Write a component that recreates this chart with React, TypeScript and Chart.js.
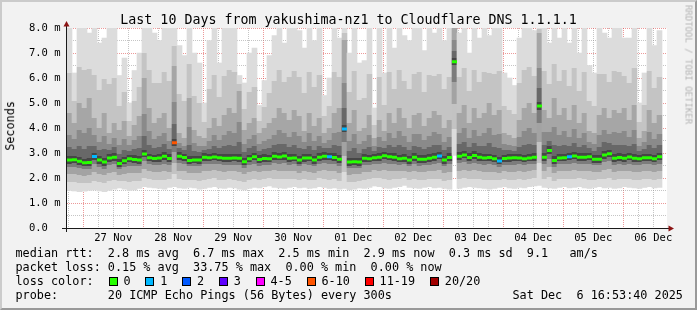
import React, { useEffect, useRef } from "react";
import { Chart, registerables } from "chart.js";

Chart.register(...registerables);

const titleText = "Last 10 Days from yakushima-nz1 to Cloudflare DNS 1.1.1.1";
const yAxisTitle = "Seconds";
const watermark = "RRDTOOL / TOBI OETIKER";

// x axis: hours relative to 27 Nov 00:00
const dayLabels = ["27 Nov", "28 Nov", "29 Nov", "30 Nov", "01 Dec", "02 Dec", "03 Dec", "04 Dec", "05 Dec", "06 Dec"];
const yTickLabels = ["0.0  ", "1.0 m", "2.0 m", "3.0 m", "4.0 m", "5.0 m", "6.0 m", "7.0 m", "8.0 m"];
const startHour = -6.5;
const endHour = 233.5;
const binHours = 2;

// median rtt per 2h bin (ms)
const median = [
  2.72, 2.73, 2.67, 2.61, 2.62, 2.86, 2.72, 2.64, 2.80, 2.83,
  2.58, 2.69, 2.77, 2.74, 2.72, 2.96, 2.81, 2.78, 2.80, 2.87,
  2.78, 3.41, 2.87, 2.82, 2.70, 2.72, 2.72, 2.83, 2.81, 2.84,
  2.81, 2.79, 2.79, 2.80, 2.79, 2.65, 2.77, 2.85, 2.74, 2.78,
  2.77, 2.87, 2.84, 2.88, 2.79, 2.80, 2.72, 2.80, 2.80, 2.72,
  2.83, 2.87, 2.85, 2.82, 2.75, 3.96, 2.64, 2.65, 2.64, 2.79,
  2.77, 2.81, 2.83, 2.89, 2.85, 2.83, 2.77, 2.79, 2.72, 2.83,
  2.75, 2.75, 2.79, 2.83, 2.88, 2.72, 2.82, 6.65, 2.87, 2.92,
  2.82, 2.90, 2.83, 2.80, 2.82, 2.77, 2.68, 2.78, 2.80, 2.81,
  2.80, 2.77, 2.80, 2.83, 4.88, 2.83, 3.10, 2.70, 2.80, 2.81,
  2.85, 2.88, 2.83, 2.83, 2.85, 2.75, 2.75, 2.92, 2.97, 2.79,
  2.82, 2.79, 2.84, 2.79, 2.77, 2.81, 2.81, 2.77, 2.85,
];

// lost pings (of 20) per bin
const lossCount = [
  0, 0, 0, 0, 0, 1, 0, 0, 0, 0,
  0, 0, 0, 0, 0, 0, 0, 0, 0, 0,
  0, 8, 0, 0, 0, 0, 0, 0, 0, 0,
  0, 0, 0, 0, 0, 0, 0, 0, 0, 0,
  0, 0, 0, 0, 0, 0, 0, 0, 0, 0,
  0, 0, 1, 0, 0, 1, 0, 0, 0, 0,
  0, 0, 0, 0, 0, 0, 0, 0, 0, 0,
  0, 0, 0, 0, 1, 0, 0, 0, 0, 0,
  0, 0, 0, 0, 0, 0, 1, 0, 0, 0,
  0, 0, 0, 0, 0, 0, 0, 0, 0, 0,
  1, 0, 0, 0, 0, 0, 0, 0, 0, 0,
  0, 0, 0, 0, 0, 0, 0, 0, 0,
];

// smoke: fastest ping per bin
const smokeMin = [
  1.50, 1.48, 1.45, 1.47, 1.50, 1.52, 1.48, 1.45, 1.50, 1.55,
  1.60, 1.55, 1.50, 1.52, 1.58, 1.65, 1.62, 1.60, 1.58, 1.55,
  1.62, 1.65, 1.60, 1.58, 1.62, 1.60, 1.55, 1.58, 1.62, 1.65,
  1.60, 1.58, 1.62, 1.60, 1.55, 1.52, 1.58, 1.62, 1.60, 1.65,
  1.68, 1.62, 1.60, 1.58, 1.62, 1.65, 1.60, 1.62, 1.58, 1.60,
  1.65, 1.62, 1.58, 1.60, 1.55, 1.58, 1.52, 1.55, 1.60, 1.58,
  1.62, 1.68, 1.65, 1.60, 1.58, 1.62, 1.65, 1.70, 1.62, 1.60,
  1.58, 1.62, 1.65, 1.60, 1.62, 1.58, 1.55, 2.90, 1.58, 1.62,
  1.65, 1.62, 1.60, 1.58, 1.55, 1.58, 1.62, 1.65, 1.60, 1.58,
  1.62, 1.60, 1.65, 1.68, 1.70, 1.62, 1.60, 1.58, 1.62, 1.65,
  1.60, 1.62, 1.65, 1.60, 1.58, 1.62, 1.65, 1.60, 1.62, 1.58,
  1.60, 1.65, 1.62, 1.60, 1.58, 1.62, 1.65, 1.60, 1.62,
];

// smoke: top of the dense (darker) part per bin
const smokeUpper = [
  4.6, 4.2, 5.0, 4.8, 5.2, 4.4, 4.0, 4.6, 3.8, 4.2,
  3.9, 4.3, 3.7, 4.1, 4.5, 6.0, 4.8, 4.2, 4.4, 4.6,
  4.0, 6.5, 3.8, 3.6, 5.2, 3.9, 3.7, 3.6, 4.0, 4.4,
  4.1, 4.5, 4.8, 4.6, 5.5, 3.9, 4.2, 4.4, 3.8, 4.0,
  4.2, 4.4, 4.8, 4.6, 4.3, 4.7, 4.5, 3.9, 4.6, 4.1,
  4.4, 3.8, 4.0, 4.6, 4.8, 7.5, 4.2, 4.7, 3.9, 4.0,
  4.5, 3.6, 4.3, 3.9, 4.6, 4.2, 4.8, 4.4, 4.0, 4.5,
  4.6, 4.1, 4.4, 4.7, 4.5, 4.0, 4.3, 8.2, 4.6, 4.9,
  4.2, 4.8, 4.4, 4.6, 5.0, 4.5, 4.7, 3.8, 3.7, 3.6,
  4.3, 4.8, 5.0, 4.6, 7.8, 4.7, 4.4, 5.2, 4.5, 4.8,
  4.3, 4.9, 4.2, 4.6, 3.9, 3.8, 4.5, 4.8, 4.4, 4.7,
  4.6, 4.8, 4.3, 4.9, 3.6, 3.9, 4.7, 4.2, 4.5,
];

// smoke: slowest ping per bin
const smokeMax = [
  8.2, 6.2, 8.2, 8.2, 7.8, 8.2, 7.4, 7.6, 8.2, 8.2,
  6.1, 6.8, 5.0, 6.3, 7.0, 8.2, 8.2, 7.8, 7.5, 8.2,
  8.2, 8.2, 7.3, 6.9, 8.2, 7.0, 6.6, 5.0, 7.5, 8.2,
  6.6, 8.0, 8.2, 8.2, 6.1, 5.8, 7.0, 7.2, 4.9, 5.9,
  6.9, 7.7, 8.2, 7.4, 8.2, 8.2, 7.9, 7.2, 8.2, 7.5,
  8.2, 5.3, 6.0, 8.2, 7.6, 8.2, 7.0, 8.2, 6.6, 6.7,
  8.2, 4.8, 8.2, 6.2, 8.2, 7.2, 8.2, 7.7, 7.5, 8.2,
  8.2, 7.1, 8.2, 7.8, 8.2, 7.5, 8.2, 8.2, 7.8, 8.2,
  7.0, 8.2, 7.6, 8.2, 7.7, 8.2, 8.2, 6.2, 6.0, 5.7,
  7.6, 8.2, 8.2, 7.9, 8.2, 8.2, 7.4, 8.2, 7.6, 8.2,
  7.4, 8.2, 7.0, 8.2, 6.5, 6.2, 8.2, 7.8, 7.6, 8.2,
  8.2, 7.6, 7.6, 8.2, 5.0, 6.2, 8.2, 7.3, 7.9,
];

const lossLabels = ["0", "1", "2", "3", "4-5", "6-10", "11-19", "20/20"];
const lossColors = ["#26ff00", "#00b8ff", "#0059ff", "#5e00ff", "#ff00ff", "#ff5500", "#ff0000", "#a10000"];

const legendRtt = "median rtt:  2.8 ms avg  6.7 ms max  2.5 ms min  2.9 ms now  0.3 ms sd  9.1   am/s";
const legendLoss = "packet loss: 0.15 % avg  33.75 % max  0.00 % min  0.00 % now";
const legendLossTitle = "loss color:";
const legendProbe = "probe:       20 ICMP Echo Pings (56 Bytes) every 300s";
const legendDate = "Sat Dec  6 16:53:40 2025";

const MONO = '"DejaVu Sans Mono", monospace';
const RED_GRID = "rgba(220, 70, 70, 0.55)";
const GRAY_GRID = "rgba(140, 140, 140, 0.5)";
const SMOKE_SHADES = ["#dcdcdc", "#c3c3c3", "#a3a3a3", "#7c7c7c", "#464646", "#686868", "#8a8a8a", "#a6a6a6", "#c4c4c4", "#dcdcdc"];

function lossIndex(n: number) {
  if (n <= 3) return n;
  if (n <= 5) return 4;
  if (n <= 10) return 5;
  if (n <= 19) return 6;
  return 7;
}

function smokeFill(c: any) {
  const chart = c.chart;
  if (c.type !== "data" || !chart.chartArea) return "#d8d8d8";
  const i = c.dataIndex;
  const y = chart.scales.y;
  const lo = smokeMin[i];
  const hi = Math.max(smokeMax[i], smokeUpper[i]);
  const up = Math.min(smokeUpper[i], hi);
  const m = median[i];
  const coreLo = m - 0.14;
  const coreHi = m + 0.16;
  const bounds = [
    lo,
    lo + (m - lo) * 0.28,
    lo + (m - lo) * 0.55,
    lo + (m - lo) * 0.78,
    coreLo,
    coreHi,
    coreHi + (up - coreHi) * 0.2,
    coreHi + (up - coreHi) * 0.5,
    up,
    up + (hi - up) * 0.45,
    hi,
  ];
  const g = chart.ctx.createLinearGradient(0, y.getPixelForValue(lo), 0, y.getPixelForValue(hi));
  let last = 0;
  const frac = (v: number) => {
    const f = Math.min(1, Math.max(last, (v - lo) / (hi - lo)));
    last = f;
    return f;
  };
  for (let k = 0; k < SMOKE_SHADES.length; k++) {
    g.addColorStop(frac(bounds[k]), SMOKE_SHADES[k]);
    g.addColorStop(frac(bounds[k + 1]), SMOKE_SHADES[k]);
  }
  return g;
}

const framePlugin = {
  id: "rrdFrame",
  beforeDraw(chart: any) {
    const { ctx, chartArea: a } = chart;
    ctx.save();
    ctx.fillStyle = "#ffffff";
    ctx.fillRect(a.left, a.top, a.right - a.left, a.bottom - a.top);
    ctx.restore();
  },
  afterDraw(chart: any) {
    const { ctx, chartArea: a } = chart;
    ctx.save();
    ctx.strokeStyle = "#1a1a1a";
    ctx.lineWidth = 1;
    ctx.beginPath();
    ctx.moveTo(a.left - 0.5, a.bottom + 4);
    ctx.lineTo(a.left - 0.5, a.top - 3);
    ctx.moveTo(a.left - 5, a.bottom + 0.5);
    ctx.lineTo(a.right + 2, a.bottom + 0.5);
    ctx.stroke();
    ctx.fillStyle = "#8c1414";
    ctx.beginPath();
    ctx.moveTo(a.left - 0.5, a.top - 7);
    ctx.lineTo(a.left - 3.5, a.top - 1.5);
    ctx.lineTo(a.left + 2.5, a.top - 1.5);
    ctx.closePath();
    ctx.fill();
    ctx.beginPath();
    ctx.moveTo(a.right + 7, a.bottom + 0.5);
    ctx.lineTo(a.right + 1.5, a.bottom - 2.5);
    ctx.lineTo(a.right + 1.5, a.bottom + 3.5);
    ctx.closePath();
    ctx.fill();
    ctx.restore();
  },
};

function Txt(props: { x: number; base: number; size: number; text: string; color?: string }) {
  const { x, base, size, text, color } = props;
  return (
    <div
      style={{
        position: "absolute",
        left: x,
        top: base - 0.846 * size,
        fontFamily: MONO,
        fontSize: size,
        lineHeight: `${size}px`,
        whiteSpace: "pre",
        color: color || "#000",
      }}
    >
      {text}
    </div>
  );
}

export default function App() {
  const ref = useRef<HTMLCanvasElement | null>(null);

  useEffect(() => {
    if (!ref.current) return;
    const centers = median.map((_, i) => startHour + binHours * (i + 0.5));
    const xTicks: number[] = [];
    for (let h = -6; h <= 228; h += 6) xTicks.push(h);
    const yTicks: number[] = [];
    for (let v = 0; v <= 8; v += 0.5) yTicks.push(v);
    const medColors = lossCount.map((n) => lossColors[lossIndex(n)]);

    const chart = new Chart(ref.current, {
      type: "bar",
      data: {
        datasets: [
          {
            type: "line",
            data: centers.map((x, i) => ({ x, y: median[i] })),
            showLine: false,
            pointStyle: "line",
            pointRadius: 2.5,
            pointBorderWidth: 3,
            pointBorderColor: medColors,
            pointBackgroundColor: medColors,
            order: 0,
          } as any,
          {
            type: "bar",
            data: centers.map((x, i) => ({ x, y: [smokeMin[i], smokeMax[i]] })),
            backgroundColor: smokeFill,
            borderWidth: 0,
            barPercentage: 1,
            categoryPercentage: 1,
            order: 1,
          } as any,
        ],
      },
      options: {
        animation: false,
        responsive: false,
        maintainAspectRatio: false,
        events: [],
        layout: { padding: { top: 28, right: 30, left: 0, bottom: 0 } },
        plugins: { legend: { display: false }, tooltip: { enabled: false }, title: { display: false } },
        scales: {
          x: {
            type: "linear",
            min: startHour,
            max: endHour,
            offset: false,
            z: 1,
            afterFit: (s: any) => {
              s.height = 82;
            },
            afterBuildTicks: (s: any) => {
              s.ticks = xTicks.map((value) => ({ value }));
            },
            grid: {
              offset: false,
              drawTicks: false,
              lineWidth: 1,
              color: (c: any) => (c.tick && (((c.tick.value % 24) + 24) % 24 === 0) ? RED_GRID : GRAY_GRID),
            },
            border: { display: false, dash: [1, 1] },
            ticks: {
              autoSkip: false,
              maxRotation: 0,
              minRotation: 0,
              padding: 4,
              color: "#000",
              font: { family: MONO, size: 10.5 },
              callback: (v: any) => {
                const h = Number(v);
                if (((h % 24) + 24) % 24 === 12) return dayLabels[(h - 12) / 24] ?? "";
                return "";
              },
            },
          } as any,
          y: {
            type: "linear",
            min: 0,
            max: 8,
            z: 1,
            afterFit: (s: any) => {
              s.width = 67;
            },
            afterBuildTicks: (s: any) => {
              s.ticks = yTicks.map((value) => ({ value }));
            },
            grid: {
              drawTicks: false,
              lineWidth: 1,
              color: (c: any) => (c.tick && Number.isInteger(c.tick.value) ? RED_GRID : GRAY_GRID),
            },
            border: { display: false, dash: [1, 1] },
            ticks: {
              autoSkip: false,
              padding: 6.5,
              color: "#000",
              font: { family: MONO, size: 10.5 },
              callback: (v: any) => (Number.isInteger(Number(v)) ? yTickLabels[Number(v)] : ""),
            },
          } as any,
        },
      },
      plugins: [framePlugin],
    });
    return () => chart.destroy();
  }, []);

  // loss color legend layout (box, then label)
  const charW = 7.12;
  const items: { box: number; text: number }[] = [];
  let bx = 108.5;
  lossLabels.forEach((l) => {
    items.push({ box: bx, text: bx + 15.4 });
    bx = bx + 15.4 + l.length * charW + 14.24;
  });

  return (
    <div style={{ position: "absolute", left: 0, top: 0, width: 697, height: 310, background: "#f2f2f2", overflow: "hidden" }}>
      <canvas ref={ref} width={697} height={310} style={{ position: "absolute", left: 0, top: 0, width: 697, height: 310 }} />
      <div
        style={{
          position: "absolute",
          left: 0,
          top: 12.75,
          width: 697,
          textAlign: "center",
          fontFamily: MONO,
          fontSize: 13.3,
          lineHeight: "13.3px",
          whiteSpace: "pre",
          color: "#000",
        }}
      >
        {titleText}
      </div>
      <div
        style={{
          position: "absolute",
          left: 10.9 - 40,
          top: 126 - 5.9,
          width: 80,
          textAlign: "center",
          fontFamily: MONO,
          fontSize: 11.8,
          lineHeight: "11.8px",
          transform: "rotate(-90deg)",
          transformOrigin: "50% 50%",
          color: "#000",
        }}
      >
        {yAxisTitle}
      </div>
      <div
        style={{
          position: "absolute",
          left: 688.1 - 70,
          top: 64.5 - 4.5,
          width: 140,
          textAlign: "center",
          fontFamily: MONO,
          fontSize: 9,
          lineHeight: "9px",
          transform: "rotate(90deg)",
          transformOrigin: "50% 50%",
          color: "#b4b4b4",
          whiteSpace: "pre",
        }}
      >
        {watermark}
      </div>
      <Txt x={15.5} base={257.5} size={11.8} text={legendRtt} />
      <Txt x={15.5} base={271.7} size={11.8} text={legendLoss} />
      <Txt x={15.5} base={285.9} size={11.8} text={legendLossTitle} />
      {items.map((it, i) => (
        <React.Fragment key={i}>
          <div
            style={{
              position: "absolute",
              left: Math.round(it.box),
              top: 277,
              width: 9,
              height: 9,
              boxSizing: "border-box",
              border: "1px solid #000",
              background: lossColors[i],
            }}
          />
          <Txt x={it.text - 0.5} base={285.9} size={11.8} text={lossLabels[i]} />
        </React.Fragment>
      ))}
      <Txt x={15.5} base={300} size={11.8} text={legendProbe} />
      <Txt x={512.5} base={300} size={11.8} text={legendDate} />
      <div
        style={{
          position: "absolute",
          left: 0,
          top: 0,
          width: 697,
          height: 310,
          boxSizing: "border-box",
          borderStyle: "solid",
          borderWidth: 2,
          borderColor: "#cbcbcb #999999 #999999 #cbcbcb",
          pointerEvents: "none",
        }}
      />
    </div>
  );
}
